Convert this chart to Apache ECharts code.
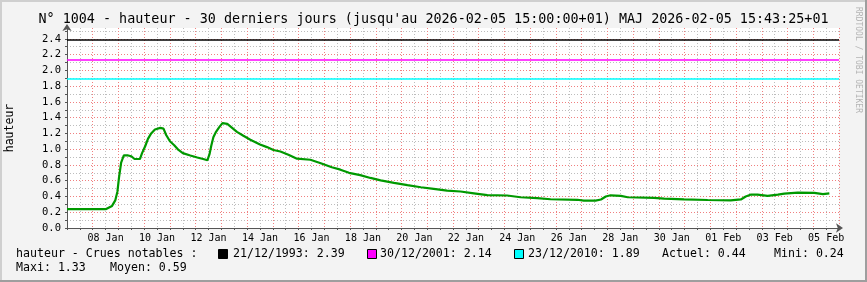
<!DOCTYPE html>
<html><head><meta charset="utf-8">
<script src="https://cdn.jsdelivr.net/npm/echarts@6/dist/echarts.min.js"></script>
<style>html,body{margin:0;padding:0;background:#f3f3f3}#c{width:867px;height:282px}</style>
</head><body><div id="c"></div>
<script>
// ---- data ----
const times = [
 '01-07 00:00','01-08 12:30','01-08 14:00','01-08 18:00','01-08 21:00','01-08 23:00',
 '01-09 00:30','01-09 02:30','01-09 05:00','01-09 09:00','01-09 12:00','01-09 15:00',
 '01-09 20:00','01-09 22:00','01-10 01:00','01-10 03:30','01-10 06:30','01-10 10:00',
 '01-10 15:00','01-10 18:00','01-10 20:30','01-11 00:00','01-11 04:00','01-11 08:00',
 '01-11 12:00','01-11 19:00','01-12 01:30','01-12 07:00','01-12 11:00','01-12 13:00',
 '01-12 14:30','01-12 16:30','01-12 19:00','01-12 22:00','01-13 01:00','01-13 05:30',
 '01-13 10:00','01-13 14:30','01-13 20:30','01-14 03:00','01-14 12:00','01-14 18:30',
 '01-15 00:30','01-15 07:00','01-15 14:30','01-15 22:30','01-16 11:00','01-16 20:00',
 '01-17 07:00','01-17 15:00','01-17 23:00','01-18 09:30','01-18 19:00','01-19 04:30',
 '01-19 17:00','01-20 05:30','01-20 18:00','01-21 06:00','01-21 18:30','01-22 07:00',
 '01-22 19:30','01-23 08:00','01-24 02:30','01-24 15:00','01-25 06:30','01-25 19:00',
 '01-26 20:00','01-27 02:00','01-27 13:00','01-27 18:00','01-27 22:30','01-28 03:00',
 '01-28 12:30','01-28 19:00','01-29 19:30','01-30 05:00','01-30 23:30','01-31 21:30',
 '02-01 19:00','02-02 04:30','02-02 09:00','02-02 14:00','02-02 20:00','02-03 05:30',
 '02-03 15:00','02-03 21:00','02-04 09:30','02-05 01:00','02-05 09:00','02-05 15:00'
];
const heights = [
 0.24,0.24,0.255,0.28,0.35,0.46,
 0.64,0.83,0.92,0.92,0.91,0.875,
 0.875,0.95,1.04,1.13,1.20,1.25,
 1.27,1.26,1.18,1.10,1.05,0.99,
 0.95,0.92,0.895,0.875,0.86,0.94,
 1.04,1.15,1.22,1.28,1.33,1.32,
 1.27,1.22,1.17,1.12,1.06,1.026,
 0.99,0.97,0.93,0.88,0.866,0.825,
 0.77,0.74,0.70,0.67,0.635,0.605,
 0.572,0.543,0.517,0.497,0.475,0.463,
 0.44,0.416,0.412,0.39,0.38,0.365,
 0.358,0.348,0.348,0.362,0.40,0.415,
 0.408,0.39,0.383,0.372,0.362,0.355,
 0.35,0.362,0.40,0.425,0.423,0.408,
 0.423,0.435,0.448,0.445,0.43,0.44
];
const xTickLabels = ['08 Jan','10 Jan','12 Jan','14 Jan','16 Jan','18 Jan','20 Jan','22 Jan',
 '24 Jan','26 Jan','28 Jan','30 Jan','01 Feb','03 Feb','05 Feb'];
const floodDates = ['21/12/1993','30/12/2001','23/12/2010'];
const floodValues = [2.39, 2.14, 1.89];
const floodColors = ['#000000','#ff00ff','#00ffff'];
const statNames = ['Actuel','Mini','Maxi','Moyen'];
const statValues = [0.44, 0.24, 1.33, 0.59];
const titleText = "N° 1004 - hauteur - 30 derniers jours (jusqu'au 2026-02-05 15:00:00+01) MAJ 2026-02-05 15:43:25+01";
const legendTitle = 'hauteur - Crues notables :';
const yName = 'hauteur';
const watermark = 'RRDTOOL / TOBI OETIKER';

// ---- build ----
const START = Date.UTC(2026, 0, 7, 0, 0);
function toHours(s) {
  const [md, hm] = s.split(' ');
  const [m, d] = md.split('-').map(Number);
  const [h, mi] = hm.split(':').map(Number);
  return (Date.UTC(2026, m - 1, d, h, mi) - START) / 3600000;
}
const seriesData = times.map((t, i) => [toHours(t), heights[i]]);

const MONO = '"DejaVu Sans Mono", monospace';
const GRAY = '#bdbdbd';
const RED = '#f08080';
const AX = '#555555';

const legendSquaresX = [218, 367, 514];
const legendTextX = [233, 380, 528];
const graphics = [
  {type:'rect', shape:{x:0,y:0,width:867,height:2}, style:{fill:'#cfcfcf'}, silent:true},
  {type:'rect', shape:{x:0,y:0,width:2,height:282}, style:{fill:'#cfcfcf'}, silent:true},
  {type:'rect', shape:{x:0,y:280,width:867,height:2}, style:{fill:'#9e9e9e'}, silent:true},
  {type:'rect', shape:{x:865,y:0,width:2,height:282}, style:{fill:'#9e9e9e'}, silent:true},
  {type:'text', x:433.5, y:20, style:{text:titleText, font:'13.4px '+MONO, fill:'#000', align:'center', verticalAlign:'middle'}},
  {type:'text', x:10, y:128, rotation:Math.PI/2, style:{text:yName, font:'11.5px '+MONO, fill:'#000', align:'center', verticalAlign:'middle'}},
  {type:'text', x:858, y:60, rotation:-Math.PI/2, style:{text:watermark, font:'8px '+MONO, fill:'#b4b4b4', align:'center', verticalAlign:'middle'}},
  {type:'text', x:16, y:254, style:{text:legendTitle, font:'11.6px '+MONO, fill:'#000', verticalAlign:'middle'}}
];
floodDates.forEach((d, i) => {
  graphics.push({type:'rect', shape:{x:legendSquaresX[i]+0.5, y:249.5, width:9, height:9}, style:{fill:floodColors[i], stroke:'#000', lineWidth:1}});
  graphics.push({type:'text', x:legendTextX[i], y:254, style:{text:d + ': ' + floodValues[i].toFixed(2), font:'11.6px '+MONO, fill:'#000', verticalAlign:'middle'}});
});
const statPos = [[662,254],[774,254],[16,267.5],[110,267.5]];
statNames.forEach((n, i) => {
  graphics.push({type:'text', x:statPos[i][0], y:statPos[i][1], style:{text:n + ': ' + statValues[i].toFixed(2), font:'11.6px '+MONO, fill:'#000', verticalAlign:'middle'}});
});

const chart = echarts.init(document.getElementById('c'), null, {renderer:'canvas'});
chart.setOption({
  animation:false,
  backgroundColor:'#f3f3f3',
  grid:{left:67, right:28, top:28, bottom:54, show:true, backgroundColor:'#ffffff', borderWidth:0},
  xAxis:[
    {type:'value', min:0, max:720, interval:12, position:'bottom',
     axisLine:{show:true, lineStyle:{color:AX, width:1}, symbol:['none','arrow'], symbolSize:[7,7], symbolOffset:[0,4]},
     axisTick:{show:true, length:2, lineStyle:{color:AX}},
     axisLabel:{show:true, interval:0, margin:5, fontFamily:MONO, fontSize:10, color:'#000',
       formatter:v => { const k = (v - 36) / 48; return (Number.isInteger(k) && k >= 0 && k < xTickLabels.length) ? xTickLabels[k] : ''; }},
     splitLine:{show:true, lineStyle:{color:GRAY, type:[1,2], width:1}}},
    {type:'value', min:0, max:720, interval:24, position:'top',
     axisLine:{show:false}, axisTick:{show:false}, axisLabel:{show:false},
     splitLine:{show:true, lineStyle:{color:RED, type:[1,2], width:1}}}
  ],
  yAxis:[
    {type:'value', min:0, max:2.537, interval:0.1, position:'left',
     axisLine:{show:true, lineStyle:{color:AX, width:1}, symbol:['none','arrow'], symbolSize:[7,7], symbolOffset:[0,4]},
     axisTick:{show:true, length:2, lineStyle:{color:AX}},
     axisLabel:{show:true, margin:6, fontFamily:MONO, fontSize:10.5, color:'#000', showMaxLabel:false,
       formatter:v => Math.abs(v * 5 - Math.round(v * 5)) < 1e-6 ? v.toFixed(1) : ''},
     splitLine:{show:true, showMaxLine:false, lineStyle:{color:GRAY, type:[1,2], width:1}}},
    {type:'value', min:0, max:2.537, interval:0.2, position:'right',
     axisLine:{show:false}, axisTick:{show:false}, axisLabel:{show:false},
     splitLine:{show:true, showMaxLine:false, lineStyle:{color:RED, type:[1,2], width:1}}}
  ],
  graphic:graphics,
  series:[{
    type:'line', xAxisIndex:0, yAxisIndex:0, data:seriesData, showSymbol:false, symbol:'none', smooth:false,
    lineStyle:{color:'#009900', width:2.2}, z:5,
    markLine:{silent:true, symbol:['none','none'], label:{show:false},
      data:floodValues.map((v, i) => ({yAxis:v, lineStyle:{color:floodColors[i], width:1.5, type:'solid'}}))}
  }]
});
</script></body></html>
